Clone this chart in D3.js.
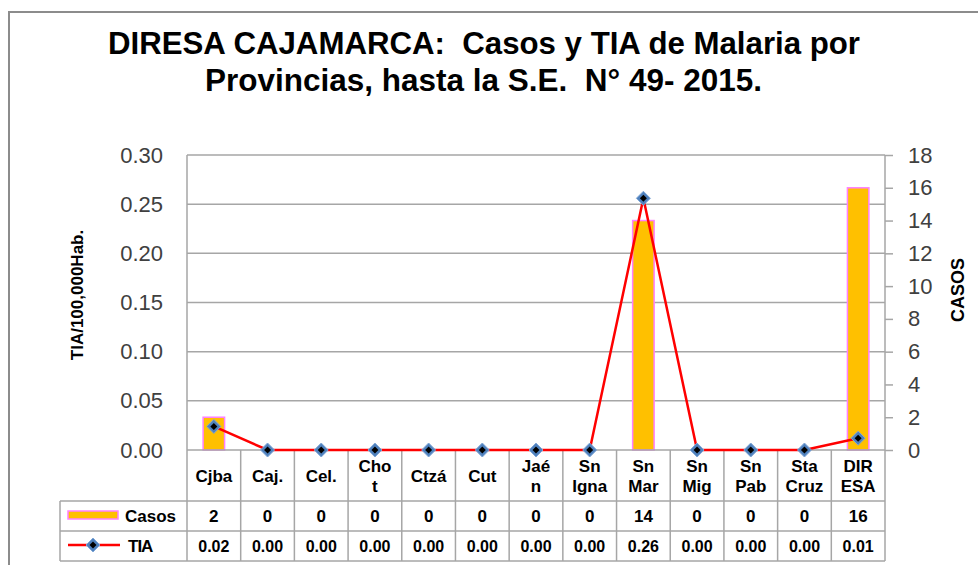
<!DOCTYPE html>
<html>
<head>
<meta charset="utf-8">
<script src="https://cdn.jsdelivr.net/npm/d3@7"></script>
<style>
  body { margin: 0; background: #fff; }
  svg { display: block; }
</style>
</head>
<body>
<div id="chart"></div>
<script>
// data
const categories = ['Cjba', 'Caj.', 'Cel.', 'Chot', 'Ctzá', 'Cut', 'Jaén', 'Sn Igna', 'Sn Mar', 'Sn Mig', 'Sn Pab', 'Sta Cruz', 'DIRESA'];
const categoryLines = [['Cjba'], ['Caj.'], ['Cel.'], ['Cho', 't'], ['Ctzá'], ['Cut'], ['Jaé', 'n'], ['Sn', 'Igna'], ['Sn', 'Mar'], ['Sn', 'Mig'], ['Sn', 'Pab'], ['Sta', 'Cruz'], ['DIR', 'ESA']];
const casos = [2, 0, 0, 0, 0, 0, 0, 0, 14, 0, 0, 0, 16];
const tia = [0.024, 0, 0, 0, 0, 0, 0, 0, 0.256, 0, 0, 0, 0.012];
const leftTicks = [0, 0.05, 0.10, 0.15, 0.20, 0.25, 0.30];
const rightTicks = [0, 2, 4, 6, 8, 10, 12, 14, 16, 18];
const titleLines = ['DIRESA CAJAMARCA:  Casos y TIA de Malaria por', 'Provincias, hasta la S.E.  N° 49- 2015.'];

const width = 978;
const height = 565;
const plot = { l: 187, r: 885, t: 155, b: 450 };
const rows = { cat: 501, casos: 531, tia: 561, legendL: 60 };
const gridColor = '#a6a6a6';
const barFill = '#ffc000';
const barStroke = '#ff80ff';
const lineColor = '#ff0000';

const svg = d3.select('#chart').append('svg')
  .attr('width', width)
  .attr('height', height)
  .style('font-family', '"Liberation Sans", Arial, sans-serif');

// outer frame
svg.append('rect')
  .attr('x', 9)
  .attr('y', 12)
  .attr('width', width + 20)
  .attr('height', height + 20)
  .attr('fill', 'none')
  .attr('stroke', '#8c8c8c')
  .attr('stroke-width', 2);

// title (Excel renders it narrow, so squeeze to the measured widths)
const titleWidths = [752, 557];
svg.append('g')
  .selectAll('text')
  .data(titleLines)
  .join('text')
    .attr('x', (d, i) => i === 0 ? 108 : 205)
    .attr('y', (d, i) => 54 + i * 37)
    .attr('textLength', (d, i) => titleWidths[i])
    .attr('lengthAdjust', 'spacingAndGlyphs')
    .attr('font-size', 31)
    .attr('font-weight', 'bold')
    .attr('fill', '#000')
    .style('white-space', 'pre')
    .text((d) => d);

// scales
const x = d3.scaleBand()
  .domain(categories)
  .range([plot.l, plot.r])
  .padding(0);
const yL = d3.scaleLinear().domain([0, 0.30]).range([plot.b, plot.t]);
const yR = d3.scaleLinear().domain([0, 18]).range([plot.b, plot.t]);

// grid lines
svg.append('g')
  .attr('class', 'y-grid')
  .selectAll('line')
  .data(leftTicks.filter((d) => d > 0))
  .join('line')
    .attr('x1', plot.l)
    .attr('x2', plot.r)
    .attr('y1', (d) => yL(d))
    .attr('y2', (d) => yL(d))
    .attr('stroke', gridColor)
    .attr('stroke-width', 1.5);

// left axis (labels only)
const leftAxis = svg.append('g')
  .attr('transform', `translate(${plot.l},0)`)
  .call(d3.axisLeft(yL).tickValues(leftTicks).tickSize(0).tickPadding(24).tickFormat(d3.format('.2f')))
  .call((g) => g.select('.domain').remove());
leftAxis.selectAll('text')
  .attr('font-size', 22)
  .attr('font-family', '"Liberation Sans", Arial, sans-serif')
  .attr('fill', '#404040');

// right axis
const rightAxis = svg.append('g')
  .attr('transform', `translate(${plot.r},0)`)
  .call(d3.axisRight(yR).tickValues(rightTicks).tickSize(8).tickPadding(15))
  .call((g) => g.select('.domain').remove());
rightAxis.selectAll('line')
  .attr('stroke', gridColor)
  .attr('stroke-width', 1.5);
rightAxis.selectAll('text')
  .attr('font-size', 22)
  .attr('font-family', '"Liberation Sans", Arial, sans-serif')
  .attr('fill', '#404040');

// axis titles
svg.append('text')
  .attr('transform', 'translate(83,295) rotate(-90)')
  .attr('text-anchor', 'middle')
  .attr('font-size', 17)
  .attr('font-weight', 'bold')
  .attr('fill', '#000')
  .text('TIA/100,000Hab.');
svg.append('text')
  .attr('transform', 'translate(964,290) rotate(-90)')
  .attr('text-anchor', 'middle')
  .attr('font-size', 18)
  .attr('font-weight', 'bold')
  .attr('fill', '#000')
  .text('CASOS');

// bars
const barW = x.bandwidth() * 0.4;
svg.append('g')
  .attr('class', 'bars')
  .selectAll('rect')
  .data(categories.map((c, i) => ({ c, v: casos[i] })).filter((d) => d.v > 0))
  .join('rect')
    .attr('x', (d) => x(d.c) + (x.bandwidth() - barW) / 2)
    .attr('y', (d) => yR(d.v))
    .attr('width', barW)
    .attr('height', (d) => yR(0) - yR(d.v))
    .attr('fill', barFill)
    .attr('stroke', barStroke)
    .attr('stroke-width', 1.5);

// table and plot borders
const tableG = svg.append('g').attr('class', 'table');
const hLines = [
  { y: plot.b, x1: plot.l },
  { y: rows.cat, x1: rows.legendL },
  { y: rows.casos, x1: rows.legendL },
  { y: rows.tia, x1: rows.legendL },
];
tableG.selectAll('line.h')
  .data(hLines)
  .join('line')
    .attr('class', 'h')
    .attr('x1', (d) => d.x1)
    .attr('x2', plot.r)
    .attr('y1', (d) => d.y)
    .attr('y2', (d) => d.y)
    .attr('stroke', gridColor)
    .attr('stroke-width', 1.5);
const edges = categories.map((c) => x(c)).concat([plot.r]);
tableG.selectAll('line.v')
  .data(edges)
  .join('line')
    .attr('class', 'v')
    .attr('x1', (d) => d)
    .attr('x2', (d) => d)
    .attr('y1', (d, i) => (i === 0 || i === edges.length - 1) ? plot.t : plot.b)
    .attr('y2', rows.tia)
    .attr('stroke', gridColor)
    .attr('stroke-width', 1.5);
tableG.append('line')
  .attr('x1', rows.legendL)
  .attr('x2', rows.legendL)
  .attr('y1', rows.cat)
  .attr('y2', rows.tia)
  .attr('stroke', gridColor)
  .attr('stroke-width', 1.5);

// category labels
const catG = tableG.append('g')
  .selectAll('text')
  .data(categories)
  .join('text')
    .attr('x', (d) => x(d) + x.bandwidth() / 2)
    .attr('text-anchor', 'middle')
    .attr('font-size', 17)
    .attr('font-weight', 'bold')
    .attr('fill', '#000');
catG.each(function (d, i) {
  const lines = categoryLines[i];
  const mid = (plot.b + rows.cat) / 2;
  d3.select(this).selectAll('tspan')
    .data(lines)
    .join('tspan')
      .attr('x', x(d) + x.bandwidth() / 2)
      .attr('y', (l, j) => mid + 6 + (j - (lines.length - 1) / 2) * 20)
      .text((l) => l);
});

// value rows
const fmt = d3.format('.2f');
tableG.append('g')
  .selectAll('text')
  .data(categories)
  .join('text')
    .attr('x', (d) => x(d) + x.bandwidth() / 2)
    .attr('y', (rows.cat + rows.casos) / 2 + 6)
    .attr('text-anchor', 'middle')
    .attr('font-size', 17)
    .attr('font-weight', 'bold')
    .text((d, i) => casos[i]);
tableG.append('g')
  .selectAll('text')
  .data(categories)
  .join('text')
    .attr('x', (d) => x(d) + x.bandwidth() / 2)
    .attr('y', (rows.casos + rows.tia) / 2 + 6)
    .attr('text-anchor', 'middle')
    .attr('font-size', 16)
    .attr('font-weight', 'bold')
    .text((d, i) => fmt(tia[i]));

// marker helper
const diamond = (g, cx, cy) => {
  g.append('path')
    .attr('d', `M${cx} ${cy - 7} L${cx + 7} ${cy} L${cx} ${cy + 7} L${cx - 7} ${cy} Z`)
    .attr('fill', '#4f81bd')
    .attr('stroke', '#7fa6d6')
    .attr('stroke-width', 1);
  g.append('path')
    .attr('d', `M${cx} ${cy - 3.5} L${cx + 3.5} ${cy} L${cx} ${cy + 3.5} L${cx - 3.5} ${cy} Z`)
    .attr('fill', '#000');
};

// legend
const legG = svg.append('g').attr('class', 'legend');
legG.append('rect')
  .attr('x', 68)
  .attr('y', 511)
  .attr('width', 50)
  .attr('height', 8)
  .attr('fill', barFill)
  .attr('stroke', barStroke)
  .attr('stroke-width', 1.5);
legG.append('text')
  .attr('x', 125)
  .attr('y', 522)
  .attr('font-size', 17)
  .attr('font-weight', 'bold')
  .text('Casos');
legG.append('line')
  .attr('x1', 68)
  .attr('x2', 120)
  .attr('y1', 545)
  .attr('y2', 545)
  .attr('stroke', lineColor)
  .attr('stroke-width', 2.5);
diamond(legG, 93, 545);
legG.append('text')
  .attr('x', 128)
  .attr('y', 552)
  .attr('font-size', 17)
  .attr('font-weight', 'bold')
  .attr('letter-spacing', -1)
  .text('TIA');

// TIA line and markers
const line = d3.line()
  .x((d, i) => x(categories[i]) + x.bandwidth() / 2)
  .y((d) => yL(d));
svg.append('path')
  .datum(tia)
  .attr('d', line)
  .attr('fill', 'none')
  .attr('stroke', lineColor)
  .attr('stroke-width', 2.5);
const markG = svg.append('g').attr('class', 'markers');
tia.forEach((v, i) => diamond(markG, x(categories[i]) + x.bandwidth() / 2, yL(v)));
</script>
</body>
</html>
